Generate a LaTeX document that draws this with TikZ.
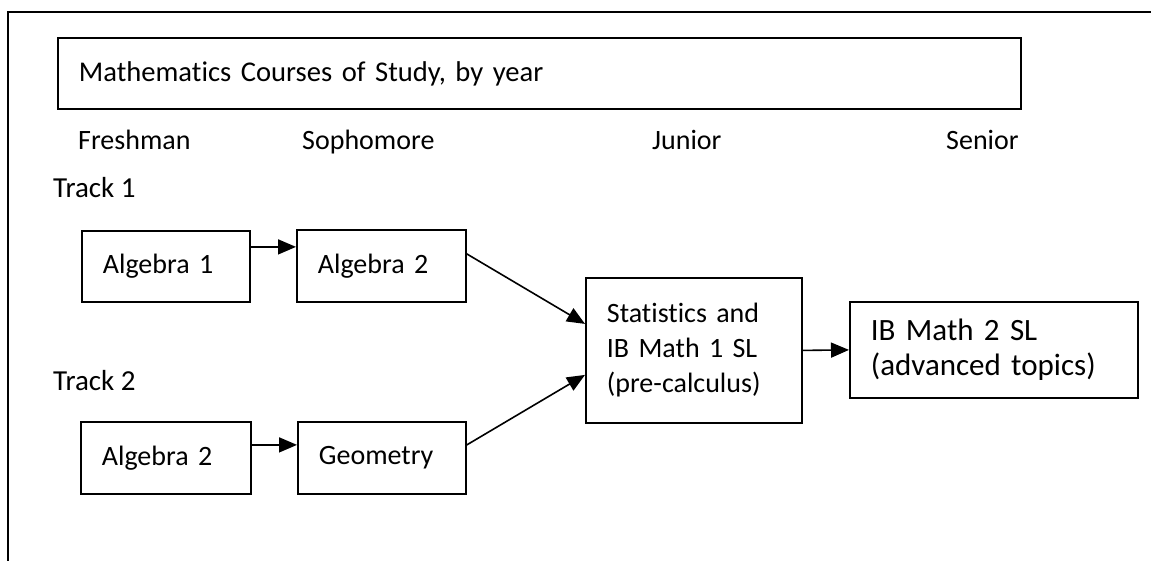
\documentclass[tikz,border=0pt]{standalone}
\usepackage{fontspec}
\setmainfont[Ligatures=NoCommon]{Carlito}
\usetikzlibrary{positioning}
\usetikzlibrary{arrows.meta}
\tikzstyle{course} = [draw, line width=1.8pt, inner xsep=21pt, inner ysep=0pt,
align=left, anchor=north west]
\tikzstyle{heading} = [inner sep=0pt, anchor=base west]
\tikzstyle{flow} = [line width=1.6pt, -{Triangle[length=18pt,width=15pt]}]

\begin{document}
\begin{tikzpicture}[x=1pt,y=-1pt,font=\fontsize{28}{35}\selectfont]
  \useasboundingbox (0,0) rectangle (1151,560);
  \clip (0,0) rectangle (1151,560);
  \draw[line width=2pt] (8,12) rectangle (1180,590);

  \node[course, text width=921pt, minimum height=71pt,
    font=\fontsize{28.6}{35}\selectfont] (title) at (57,37)
    {Mathematics Courses of Study, by year};

  \node[heading] (fresh) at (78,149) {Freshman};
  \node[heading] (soph) at (302,149) {Sophomore};
  \node[heading] (junior) at (652,149) {Junior};
  \node[heading] (senior) at (946,149) {Senior};
  \node[heading, font=\fontsize{29}{35}\selectfont] (track1) at (53,197) {Track 1};
  \node[heading, font=\fontsize{29}{35}\selectfont] (track2) at (53,390) {Track 2};

  \node[course, text width=126pt, minimum height=71pt] (alg1) at (81,230) {Algebra 1};
  \node[course, text width=127pt, minimum height=72pt] (alg2a) at (296,229) {Algebra 2};
  \node[course, text width=128pt, minimum height=72pt] (alg2b) at (80,421) {Algebra 2};
  \node[course, text width=126pt, minimum height=72pt] (geom) at (297,421) {Geometry};
  \node[course, text width=174pt, minimum height=145pt] (stats) at (585,277)
    {Statistics and\\IB Math 1 SL\\(pre-calculus)};
  \node[course, text width=246pt, minimum height=96pt,
    font=\fontsize{31}{35}\selectfont] (ibm2) at (849,301)
    {IB Math 2 SL\\(advanced topics)};

  \draw[flow] ([yshift=19.5pt]alg1.east) -- ([yshift=19pt]alg2a.west);
  \draw[flow] ([yshift=13pt]alg2b.east) -- ([yshift=13pt]geom.west);
  \draw[flow] ([yshift=12pt]alg2a.east) -- ([yshift=26.5pt]stats.west);
  \draw[flow] ([yshift=13pt]geom.east) -- ([yshift=-24.5pt]stats.west);
  \draw[flow] (stats.east) -- (ibm2.west);
\end{tikzpicture}
\end{document}
